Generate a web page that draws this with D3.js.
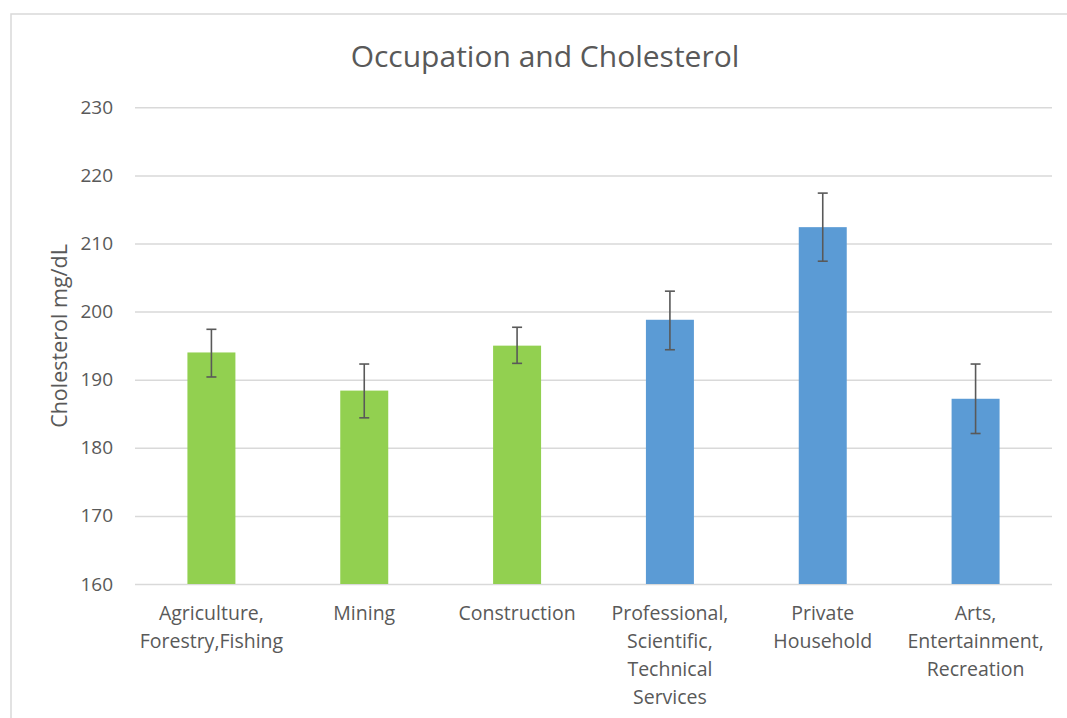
<!DOCTYPE html>
<html><head><meta charset="utf-8">
<script src="https://cdn.jsdelivr.net/npm/d3@7"></script>
<style>body{margin:0;background:#fff;} text{font-family:"Open Sans",sans-serif;}</style>
</head><body>
<svg id="c" width="1067" height="718"></svg>
<script>
const categories = [["Agriculture,","Forestry,Fishing"],["Mining"],["Construction"],["Professional,","Scientific,","Technical","Services"],["Private","Household"],["Arts,","Entertainment,","Recreation"]];
const values = [194.0, 188.4, 195.0, 198.8, 212.4, 187.2];
const errUpper = [197.4, 192.3, 197.7, 203.0, 217.4, 192.3];
const errLower = [190.4, 184.4, 192.4, 194.4, 207.4, 182.1];
const groups = ["green","green","green","blue","blue","blue"];
const yTicks = [160,170,180,190,200,210,220,230];

const svg = d3.select("#c");
const colors = {green:"#92D050", blue:"#5B9BD5"};
const L=135, R=1052, T=107.3, B=584;
svg.append("rect").attr("x",11).attr("y",14).attr("width",1070).attr("height",720)
  .attr("fill","none").attr("stroke","#d9d9d9").attr("stroke-width",1.5);

const x = d3.scaleBand().domain(d3.range(categories.length)).range([L,R]).paddingInner(0.686).paddingOuter(0.343);
const y = d3.scaleLinear().domain([160,230]).range([B,T]);

const yAxis = svg.append("g").attr("transform",`translate(${L},0)`)
  .call(d3.axisLeft(y).tickValues(yTicks).tickSize(-(R-L)).tickPadding(22).tickFormat(d3.format("d")));
yAxis.select(".domain").remove();
yAxis.selectAll(".tick line").attr("stroke","#d9d9d9").attr("stroke-width",1.5);
yAxis.selectAll(".tick text").attr("fill","#595959").style("font-size","19px");

svg.selectAll("rect.bar").data(values).join("rect").attr("class","bar")
  .attr("x",(d,i)=>x(i)).attr("width",x.bandwidth())
  .attr("y",d=>y(d)).attr("height",d=>y(160)-y(d))
  .attr("fill",(d,i)=>colors[groups[i]]);

const eb = svg.append("g").attr("stroke","#595959").attr("stroke-width",1.6);
values.forEach((v,i)=>{
  const cx = x(i)+x.bandwidth()/2;
  eb.append("line").attr("x1",cx).attr("x2",cx).attr("y1",y(errUpper[i])).attr("y2",y(errLower[i]));
  eb.append("line").attr("x1",cx-5).attr("x2",cx+5).attr("y1",y(errUpper[i])).attr("y2",y(errUpper[i]));
  eb.append("line").attr("x1",cx-5).attr("x2",cx+5).attr("y1",y(errLower[i])).attr("y2",y(errLower[i]));
});

const xl = svg.append("g");
categories.forEach((lines,i)=>{
  const t = xl.append("text").attr("x",x(i)+x.bandwidth()/2).attr("y",620)
    .attr("text-anchor","middle").attr("fill","#595959").style("font-size","19.5px");
  lines.forEach((s,j)=>t.append("tspan").attr("x",x(i)+x.bandwidth()/2).attr("dy",j?28:0).text(s));
});

svg.append("text").attr("x",545).attr("y",67).attr("text-anchor","middle")
  .attr("fill","#595959").style("font-size","30px").text("Occupation and Cholesterol");
svg.append("text").attr("transform","translate(67,336) rotate(-90)").attr("text-anchor","middle")
  .attr("fill","#595959").style("font-size","21.5px").text("Cholesterol mg/dL");
</script>
</body></html>
